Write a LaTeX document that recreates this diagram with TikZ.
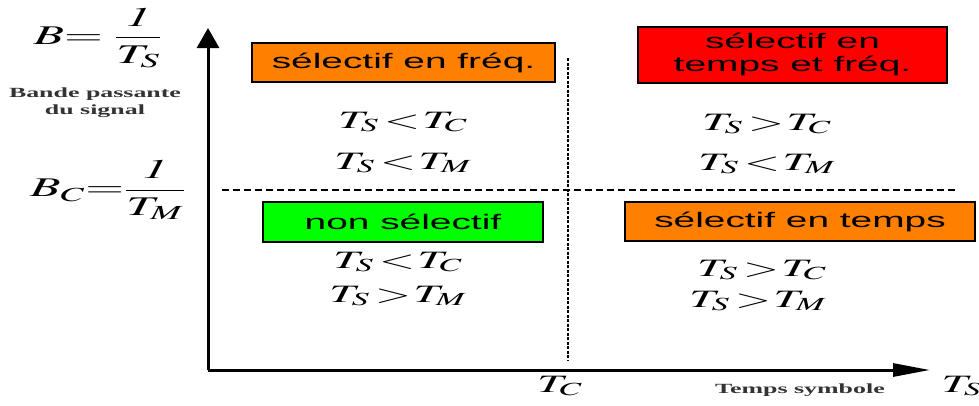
\documentclass[tikz,border=0pt]{standalone}
\usepackage{mathptmx}
\usepackage{fontspec}
\newfontfamily\boxfont{Liberation Sans}
\newfontfamily\labfont{Liberation Serif}
\usetikzlibrary{arrows.meta}
\definecolor{zorange}{RGB}{255,128,0}
\definecolor{zred}{RGB}{255,0,0}
\definecolor{zgreen}{RGB}{0,255,0}
\newcommand{\wide}[1]{\scalebox{1.85}[1]{#1}}
\newcommand{\lt}{\mskip2mu{<}\mskip1mu}
\newcommand{\gt}{\mskip2mu{>}\mskip1mu}
\tikzset{
  zone/.style={draw=black,line width=2pt,inner sep=0pt,font=\boxfont\fontsize{21}{23}\selectfont},
  cond/.style={inner sep=0pt,font=\fontsize{25}{28}\selectfont},
  axlab/.style={inner sep=0pt,font=\labfont\bfseries\fontsize{14}{17}\selectfont,text=black!80},
}

\begin{document}
\begin{tikzpicture}[x=1pt,y=-1pt]
          \useasboundingbox (0,0) rectangle (979,405);
          \coordinate (O) at (208,370);
          \coordinate (ytip) at (208,28);
          \coordinate (xtip) at (930,370);
          \coordinate (hl) at (222,190);
          \coordinate (hr) at (955,190);
          \coordinate (vt) at (568,58);
          \coordinate (vb) at (568,360);
          % axes
          \draw[line width=3pt,-{Triangle[length=20pt,width=22pt]}] (O) -- (ytip);
          \draw[line width=3pt,-{Triangle[length=37pt,width=13pt]}] (O) -- (xtip);
          \draw[line width=1.8pt,dash pattern=on 7pt off 4pt] (hl) -- (hr);
          \draw[line width=2.5pt,dash pattern=on 3pt off 1.5pt] (vt) -- (vb);
          % zones
          \node[zone,fill=zorange,minimum width=303pt,minimum height=39pt] (freq) at (403.5,62.5) {\wide{sélectif en fréq.}};
          \node[zone,fill=zred,minimum width=309pt,minimum height=56pt] (both) at (792.5,55) {\wide{\begin{tabular}{@{}c@{}}sélectif en\\temps et fréq.\end{tabular}}};
          \node[zone,fill=zgreen,minimum width=280pt,minimum height=40pt] (nonsel) at (403,222) {\wide{non sélectif}};
          \node[zone,fill=zorange,minimum width=350pt,minimum height=39pt] (temps) at (800,221.5) {\wide{sélectif en temps}};
          % conditions
          \node[cond] (tla) at (403,122) {\wide{$T_S\lt T_C$}};
          \node[cond] (tlb) at (403,163) {\wide{$T_S\lt T_M$}};
          \node[cond] (tra) at (767,124) {\wide{$T_S\gt T_C$}};
          \node[cond] (trb) at (767,164) {\wide{$T_S\lt T_M$}};
          \node[cond] (bla) at (398,262) {\wide{$T_S\lt T_C$}};
          \node[cond] (blb) at (398,296) {\wide{$T_S\gt T_M$}};
          \node[cond] (bra) at (762,270) {\wide{$T_S\gt T_C$}};
          \node[cond] (brb) at (758,301) {\wide{$T_S\gt T_M$}};
          % axis labels
          \node[cond,font=\fontsize{27}{30}\selectfont] (bs) at (98,38) {\wide{$B{=}\;\displaystyle\frac{\mathit{1}}{T_S}$}};
          \node[axlab] (band) at (95,103) {\wide{\begin{tabular}{@{}c@{}}Bande passante\\du signal\end{tabular}}};
          \node[cond,font=\fontsize{27}{30}\selectfont] (bc) at (108,190) {\wide{$B_C{=}\displaystyle\frac{\mathit{1}}{T_M}$}};
          \node[cond] (tc) at (560,386) {\wide{$T_C$}};
          \node[axlab] (tsym) at (800,390) {\wide{Temps symbole}};
          \node[cond] (ts) at (962,386) {\wide{$T_S$}};
        \end{tikzpicture}
\end{document}
